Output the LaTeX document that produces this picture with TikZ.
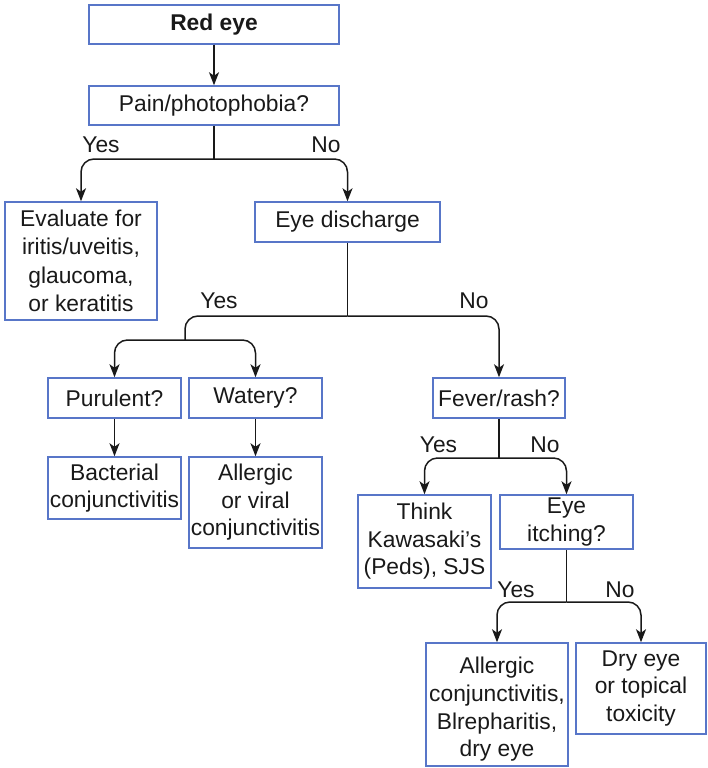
\documentclass[tikz,border=0pt]{standalone}
\usepackage{fontspec}
\setmainfont{Liberation Sans}
\usetikzlibrary{arrows.meta}
\definecolor{boxblue}{RGB}{88,118,200}
\definecolor{ink}{RGB}{25,25,25}
\begin{document}
\begin{tikzpicture}[x=1pt,y=-1pt,
  box/.style={draw=boxblue, line width=1.5pt, inner sep=0pt, align=center,
    font=\fontsize{22.8}{27.5}\selectfont, text=ink},
  link/.style={draw=ink, line width=1.5pt},
  arr/.style={link, -{Stealth[length=13pt,width=10pt,inset=3.5pt]}, rounded corners=13pt},
  lbl/.style={anchor=base, font=\fontsize{22.8}{27.5}\selectfont, text=ink, inner sep=0pt}]
\path[use as bounding box] (0,0) rectangle (707,768);

% decision boxes
\node[box, minimum width=250pt, minimum height=39pt] (red) at (214,24.5) {\bfseries Red eye};
\node[box, minimum width=250pt, minimum height=39pt] (pain) at (214,105.5) {Pain/photophobia?};
\node[box, minimum width=152pt, minimum height=118pt, font=\fontsize{22.8}{28.5}\selectfont] (eval) at (81,261) {Evaluate for\\iritis/uveitis,\\glaucoma,\\or keratitis};
\node[box, minimum width=185pt, minimum height=40pt] (disc) at (347.5,222) {Eye discharge};
\node[box, minimum width=133pt, minimum height=40pt] (pur) at (114.5,398) {Purulent?};
\node[box, minimum width=133pt, minimum height=40pt] (wat) at (255.5,398) {Watery?};
\node[box, minimum width=133pt, minimum height=62pt] (bact) at (114.5,488) {Bacterial\\conjunctivitis};
\node[box, minimum width=133pt, minimum height=91pt] (allv) at (255.5,502.5) {Allergic\\or viral\\conjunctivitis};
\node[box, minimum width=132pt, minimum height=40pt] (fev) at (499,398) {Fever/rash?};
\node[box, minimum width=133pt, minimum height=93pt] (think) at (424.5,541.5) {Think\\Kawasaki’s\\(Peds), SJS};
\node[box, minimum width=133pt, minimum height=54pt] (itch) at (566.5,522) {Eye\\itching?};
\node[box, minimum width=142pt, minimum height=123pt, font=\fontsize{22.8}{27.8}\selectfont] (allc) at (497,704.5) {\rule{0pt}{26pt}Allergic\\conjunctivitis,\\Blrepharitis,\\dry eye};
\node[box, minimum width=130pt, minimum height=91pt] (dry) at (641,688.5) {Dry eye\\or topical\\toxicity};

% branch points
\coordinate (j1) at (214,159);
\coordinate (j2) at (347.5,316);
\coordinate (j3) at (185,340);
\coordinate (j4) at (499,458);
\coordinate (j5) at (566.5,602);

% connectors
\draw[arr] (red.south) -- (pain.north);
\draw[link] (pain.south) -- (j1);
\draw[arr] (j1) -| (eval.north);
\draw[arr] (j1) -| (disc.north);
\draw[link] (disc.south) -- (j2);
\draw[link, rounded corners=13pt] (j2) -| (j3);
\draw[arr] (j3) -| (pur.north);
\draw[arr] (j3) -| (wat.north);
\draw[arr] (j2) -| (fev.north);
\draw[arr] (pur.south) -- (bact.north);
\draw[arr] (wat.south) -- (allv.north);
\draw[link] (fev.south) -- (j4);
\draw[arr] (j4) -| (think.north);
\draw[arr] (j4) -| (itch.north);
\draw[link] (itch.south) -- (j5);
\draw[arr] (j5) -| (allc.north);
\draw[arr] (j5) -| (dry.north);

% branch labels
\node[lbl] (yes1) at (101,152) {Yes};
\node[lbl] (no1) at (326,152) {No};
\node[lbl] (yes2) at (219,308) {Yes};
\node[lbl] (no2) at (474,308) {No};
\node[lbl] (yes3) at (438.5,452) {Yes};
\node[lbl] (no3) at (545,452) {No};
\node[lbl] (yes4) at (516,597) {Yes};
\node[lbl] (no4) at (620,597) {No};
\end{tikzpicture}
\end{document}
